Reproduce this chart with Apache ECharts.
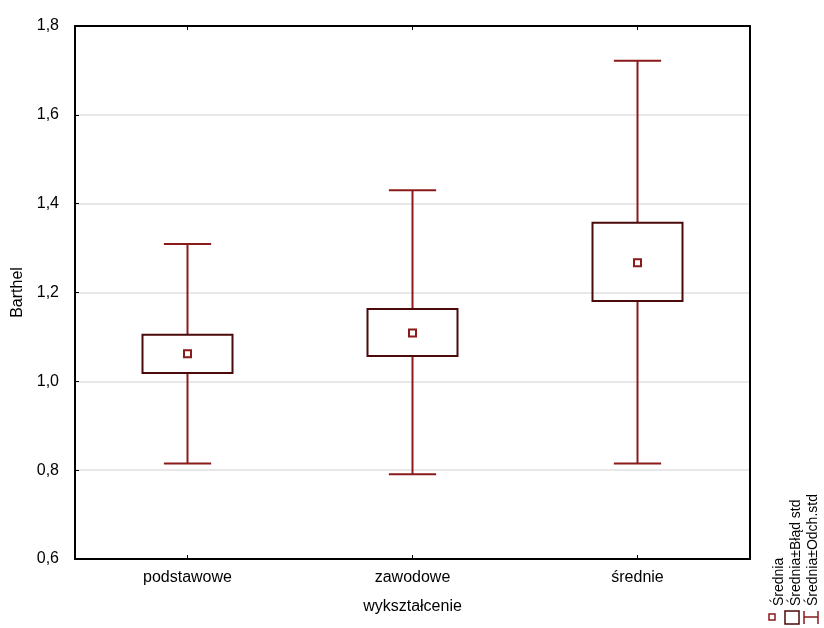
<!DOCTYPE html>
<html>
<head>
<meta charset="utf-8">
<script src="https://cdn.jsdelivr.net/npm/echarts@6/dist/echarts.min.js"></script>
<style>html,body{margin:0;padding:0;background:#fff}#c{width:824px;height:628px}</style>
</head>
<body>
<div id="c"></div>
<script>
var categories = ['podstawowe', 'zawodowe', 'średnie'];
var meanVals = [1.062, 1.109, 1.267];
var seLow = [1.019, 1.057, 1.181];
var seHigh = [1.105, 1.163, 1.357];
var sdLow = [0.815, 0.791, 0.815];
var sdHigh = [1.309, 1.430, 1.722];
var yTicks = [0.6, 0.8, 1.0, 1.2, 1.4, 1.6, 1.8];

var data = categories.map(function (c, i) {
  return [i, sdLow[i], seLow[i], meanVals[i], seHigh[i], sdHigh[i]];
});

var whiskerColor = '#8b1a1a';
var boxColor = '#4a0a0a';
var font = 'Liberation Sans, Arial, sans-serif';
var frame = { show: true, lineStyle: { color: '#000', width: 2 } };

var chart = echarts.init(document.getElementById('c'));
chart.setOption({
  animation: false,
  backgroundColor: '#fff',
  grid: { left: 75, right: 74, top: 26, bottom: 69, containLabel: false, outerBoundsMode: 'none',
    show: false },
  xAxis: [{
    type: 'category', data: categories, position: 'bottom',
    axisLine: frame,
    axisTick: { show: true, inside: true, alignWithLabel: true, length: 4, lineStyle: { color: '#000' } },
    axisLabel: { color: '#000', fontFamily: font, fontSize: 16, margin: 11 },
    name: 'wykształcenie', nameLocation: 'middle', nameGap: 40,
    nameTextStyle: { color: '#000', fontFamily: font, fontSize: 16 },
    splitLine: { show: false }
  }, {
    type: 'category', data: categories, position: 'top',
    axisLine: frame,
    axisTick: { show: true, inside: true, alignWithLabel: true, length: 4, lineStyle: { color: '#000' } },
    axisLabel: { show: false }, splitLine: { show: false }
  }],
  yAxis: [{
    type: 'value', min: 0.6, max: 1.8, interval: 0.2, position: 'left',
    axisLine: frame,
    axisTick: { show: true, inside: true, length: 4, lineStyle: { color: '#000' } },
    axisLabel: { color: '#000', fontFamily: font, fontSize: 16, margin: 16,
      formatter: function (v) { return v.toFixed(1).replace('.', ','); } },
    splitLine: { show: true, showMinLine: false, showMaxLine: false, lineStyle: { color: '#e0e0e0', width: 1.5 } },
    name: 'Barthel', nameLocation: 'middle', nameGap: 48, nameRotate: 90,
    nameTextStyle: { color: '#000', fontFamily: font, fontSize: 16 }
  }, {
    type: 'value', min: 0.6, max: 1.8, interval: 0.2, position: 'right',
    axisLine: frame, axisTick: { show: false }, axisLabel: { show: false }, splitLine: { show: false }
  }],
  series: [{
    type: 'custom',
    data: data,
    encode: { x: 0, y: [1, 2, 3, 4, 5] },
    renderItem: function (params, api) {
      var i = api.value(0);
      var pLow = api.coord([i, api.value(1)]);
      var pSeL = api.coord([i, api.value(2)]);
      var pMean = api.coord([i, api.value(3)]);
      var pSeH = api.coord([i, api.value(4)]);
      var pHigh = api.coord([i, api.value(5)]);
      var band = api.size([1, 0])[0];
      var bw = band * 0.4;
      var cw = band * 0.21;
      var x = pMean[0];
      var wStyle = { stroke: whiskerColor, lineWidth: 2 };
      return {
        type: 'group',
        children: [
          { type: 'line', shape: { x1: x, y1: pHigh[1], x2: x, y2: pSeH[1] }, style: wStyle },
          { type: 'line', shape: { x1: x, y1: pSeL[1], x2: x, y2: pLow[1] }, style: wStyle },
          { type: 'line', shape: { x1: x - cw / 2, y1: pHigh[1], x2: x + cw / 2, y2: pHigh[1] }, style: wStyle },
          { type: 'line', shape: { x1: x - cw / 2, y1: pLow[1], x2: x + cw / 2, y2: pLow[1] }, style: wStyle },
          { type: 'rect', shape: { x: x - bw / 2, y: pSeH[1], width: bw, height: pSeL[1] - pSeH[1] },
            style: { fill: 'transparent', stroke: boxColor, lineWidth: 2 } },
          { type: 'rect', shape: { x: x - 3.5, y: pMean[1] - 3.5, width: 7, height: 7 },
            style: { fill: '#fff', stroke: whiskerColor, lineWidth: 2 } }
        ]
      };
    }
  }],
  graphic: [
    { type: 'text', x: 779, y: 606, rotation: Math.PI / 2,
      style: { text: 'Średnia', fill: '#000', font: '14px ' + font, textAlign: 'left', textVerticalAlign: 'middle' } },
    { type: 'text', x: 796, y: 606, rotation: Math.PI / 2,
      style: { text: 'Średnia±Błąd std', fill: '#000', font: '14px ' + font, textAlign: 'left', textVerticalAlign: 'middle' } },
    { type: 'text', x: 813, y: 606, rotation: Math.PI / 2,
      style: { text: 'Średnia±Odch.std', fill: '#000', font: '14px ' + font, textAlign: 'left', textVerticalAlign: 'middle' } },
    { type: 'rect', shape: { x: 769, y: 614, width: 6, height: 6 }, style: { fill: '#fff', stroke: whiskerColor, lineWidth: 1.5 } },
    { type: 'rect', shape: { x: 785, y: 611, width: 14, height: 13 }, style: { fill: '#fff', stroke: boxColor, lineWidth: 1.5 } },
    { type: 'line', shape: { x1: 804, y1: 617, x2: 818, y2: 617 }, style: { stroke: whiskerColor, lineWidth: 1.5 } },
    { type: 'line', shape: { x1: 804, y1: 611, x2: 804, y2: 624 }, style: { stroke: whiskerColor, lineWidth: 1.5 } },
    { type: 'line', shape: { x1: 818, y1: 611, x2: 818, y2: 624 }, style: { stroke: whiskerColor, lineWidth: 1.5 } }
  ]
});
</script>
</body>
</html>
